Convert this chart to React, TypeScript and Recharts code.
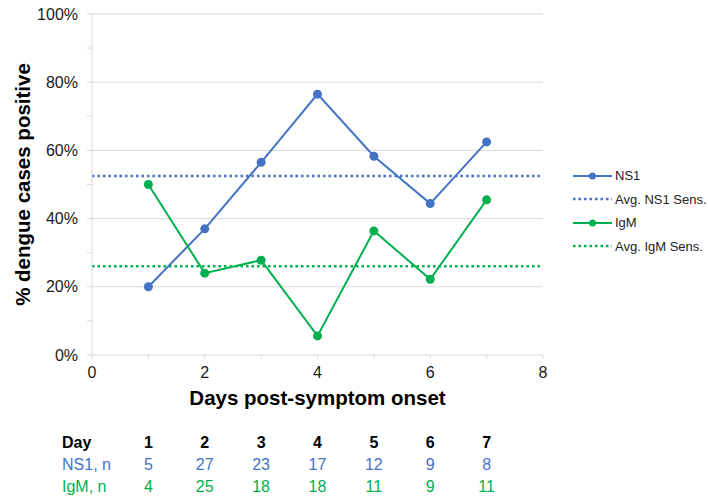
import React from 'react';
import { LineChart, Line, XAxis, YAxis, ReferenceLine } from 'recharts';

const days = [1, 2, 3, 4, 5, 6, 7];
const ns1Pct = [20.0, 37.0, 56.5, 76.5, 58.3, 44.4, 62.5];
const igmPct = [50.0, 24.0, 27.8, 5.6, 36.4, 22.2, 45.5];
const ns1N = [5, 27, 23, 17, 12, 9, 8];
const igmN = [4, 25, 18, 18, 11, 9, 11];
const avgNs1 = 52.5;
const avgIgm = 26.0;

const xTicks = [0, 1, 2, 3, 4, 5, 6, 7, 8];
const yTicks = [0, 10, 20, 30, 40, 50, 60, 70, 80, 90, 100];
const gridValues = [20, 40, 60, 80, 100];

const BLUE = '#4472C4';
const GREEN = '#00B050';
const GRID = '#d9d9d9';
const FONT = 'Arial, "Liberation Sans", sans-serif';

// plot geometry
const W = 708;
const CHART_H = 420;
const PLOT_LEFT = 92;
const PLOT_RIGHT = 543;
const PLOT_TOP = 14;
const X_AXIS_H = 65;

const data = days.map((d, i) => ({ day: d, ns1: ns1Pct[i], igm: igmPct[i] }));
const avgNs1Data = [{ day: 0, value: avgNs1 }, { day: 8, value: avgNs1 }];
const avgIgmData = [{ day: 0, value: avgIgm }, { day: 8, value: avgIgm }];

const legendItems = [
  { label: 'NS1', color: BLUE, dotted: false },
  { label: 'Avg. NS1 Sens.', color: BLUE, dotted: true },
  { label: 'IgM', color: GREEN, dotted: false },
  { label: 'Avg. IgM Sens.', color: GREEN, dotted: true },
];

const LegendBox = () => (
  <div style={{ position: 'absolute', left: 573, top: 164, fontFamily: FONT, fontSize: 13, color: '#222' }}>
    {legendItems.map(item => (
      <div key={item.label} style={{ height: 23.5, display: 'flex', alignItems: 'center', whiteSpace: 'nowrap' }}>
        <svg width={42} height={12}>
          <line
            x1={0}
            x2={39}
            y1={6}
            y2={6}
            stroke={item.color}
            strokeWidth={item.dotted ? 2.5 : 2}
            strokeDasharray={item.dotted ? '2.5 3' : undefined}
          />
          {!item.dotted && <circle cx={19.5} cy={6} r={3.5} fill={item.color} />}
        </svg>
        <span>{item.label}</span>
      </div>
    ))}
  </div>
);

const xPos = (d: number) => PLOT_LEFT + (d / 8) * (PLOT_RIGHT - PLOT_LEFT);

const App: React.FC = () => {
  const rows = [
    { label: 'Day', values: days, color: '#000', weight: 700 },
    { label: 'NS1, n', values: ns1N, color: BLUE, weight: 400 },
    { label: 'IgM, n', values: igmN, color: GREEN, weight: 400 },
  ];

  return (
    <div style={{ position: 'absolute', left: 0, top: 0, width: W, height: 501, background: '#fff', fontFamily: FONT }}>
      <LineChart
        width={W}
        height={CHART_H}
        data={data}
        margin={{ top: PLOT_TOP, right: W - PLOT_RIGHT, left: 0, bottom: 0 }}
      >
        {gridValues.map(v => (
          <ReferenceLine key={v} y={v} stroke={GRID} strokeWidth={1} />
        ))}
        <XAxis
          dataKey="day"
          type="number"
          domain={[0, 8]}
          ticks={xTicks}
          tickFormatter={(v: number) => (v % 2 === 0 ? String(v) : '')}
          height={X_AXIS_H}
          stroke={GRID}
          tickSize={4}
          tickMargin={8}
          tick={{ fill: '#1a1a1a', fontSize: 16, fontFamily: FONT }}
          label={({ viewBox }: any) => (
            <text
              x={viewBox.x + viewBox.width / 2}
              y={405}
              textAnchor="middle"
              fontSize={20.5}
              fontWeight={700}
              fontFamily={FONT}
              fill="#000"
            >
              Days post-symptom onset
            </text>
          )}
        />
        <YAxis
          type="number"
          domain={[0, 100]}
          ticks={yTicks}
          interval={0}
          tickFormatter={(v: number) => (v % 20 === 0 ? `${v}%` : '')}
          width={PLOT_LEFT}
          stroke={GRID}
          tickSize={5}
          tickMargin={9}
          tick={{ fill: '#1a1a1a', fontSize: 16, fontFamily: FONT }}
          label={({ viewBox }: any) => (
            <text
              transform={`translate(30, ${viewBox.y + viewBox.height / 2}) rotate(-90)`}
              textAnchor="middle"
              fontSize={20.5}
              fontWeight={700}
              fontFamily={FONT}
              fill="#000"
            >
              % dengue cases positive
            </text>
          )}
        />
        <Line
          data={avgNs1Data}
          dataKey="value"
          name="Avg. NS1 Sens."
          stroke={BLUE}
          strokeWidth={2.5}
          strokeDasharray="2.5 3"
          dot={false}
          activeDot={false}
          isAnimationActive={false}
        />
        <Line
          data={avgIgmData}
          dataKey="value"
          name="Avg. IgM Sens."
          stroke={GREEN}
          strokeWidth={2.5}
          strokeDasharray="2.5 3"
          dot={false}
          activeDot={false}
          isAnimationActive={false}
        />
        <Line
          dataKey="ns1"
          name="NS1"
          stroke={BLUE}
          strokeWidth={2}
          dot={{ r: 4.5, fill: BLUE, stroke: BLUE, strokeWidth: 0 }}
          activeDot={false}
          isAnimationActive={false}
        />
        <Line
          dataKey="igm"
          name="IgM"
          stroke={GREEN}
          strokeWidth={2}
          dot={{ r: 4.5, fill: GREEN, stroke: GREEN, strokeWidth: 0 }}
          activeDot={false}
          isAnimationActive={false}
        />
      </LineChart>

      <LegendBox />

      {rows.map((row, r) => (
        <div key={row.label}>
          <div
            style={{
              position: 'absolute',
              left: 62,
              top: 433 + r * 22,
              fontSize: 16,
              lineHeight: '19px',
              color: row.color,
              fontWeight: row.weight,
            }}
          >
            {row.label}
          </div>
          {row.values.map((v, i) => (
            <div
              key={i}
              style={{
                position: 'absolute',
                left: xPos(days[i]) - 20,
                width: 40,
                textAlign: 'center',
                top: 433 + r * 22,
                fontSize: 16,
                lineHeight: '19px',
                color: row.color,
                fontWeight: row.weight,
              }}
            >
              {v}
            </div>
          ))}
        </div>
      ))}
    </div>
  );
};

export default App;
